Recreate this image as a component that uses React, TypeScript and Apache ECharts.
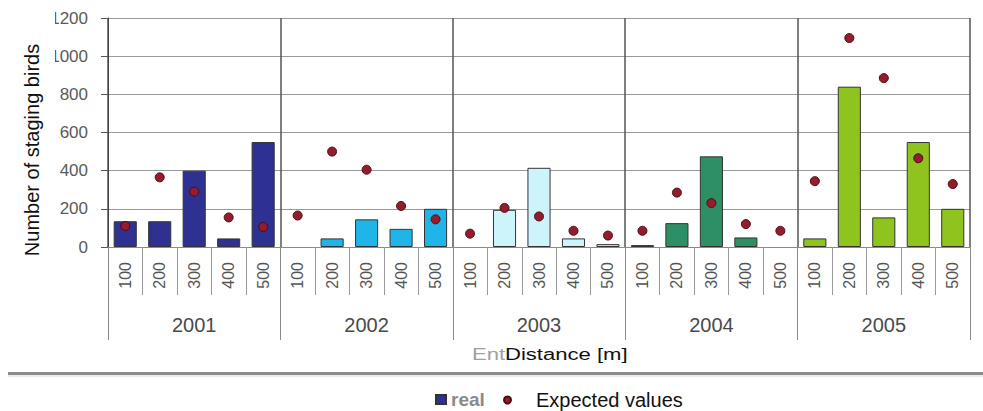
import React, { useEffect, useRef } from "react";
import * as echarts from "echarts";

// ---- data ----
const years = ["2001", "2002", "2003", "2004", "2005"];
const distances = ["100", "200", "300", "400", "500"];

// real counts (bars), 5 distances per year
const real2001 = [135, 135, 400, 45, 550];
const real2002 = [0, 45, 145, 95, 200];
const real2003 = [0, 195, 415, 45, 15];
const real2004 = [10, 125, 475, 50, 0];
const real2005 = [45, 840, 155, 550, 200];

// expected values (dots)
const exp2001 = [110, 365, 290, 155, 105];
const exp2002 = [165, 500, 405, 215, 145];
const exp2003 = [70, 205, 160, 85, 60];
const exp2004 = [85, 285, 230, 120, 85];
const exp2005 = [345, 1095, 885, 465, 330];

const yMin = 0;
const yMax = 1200;
const yStep = 200;

const yearColors = ["#2E3192", "#1FB5E8", "#CDF4FB", "#2E8F65", "#8FC41F"];

export default function App() {
  const ref = useRef<HTMLDivElement>(null);

  useEffect(() => {
    if (!ref.current) return;
    const chart = echarts.init(ref.current, null, { renderer: "svg" });

    const realByYear = [real2001, real2002, real2003, real2004, real2005];
    const expByYear = [exp2001, exp2002, exp2003, exp2004, exp2005];
    const categories = years.flatMap((y) => distances.map((d) => `${y}|${d}`));
    const realData = realByYear.flatMap((arr, yi) =>
      arr.map((v) => ({
        value: v,
        itemStyle: { color: yearColors[yi], borderWidth: v === 0 ? 0 : 1 },
      }))
    );
    const expData = expByYear.flat();

    const font = "Liberation Sans";

    chart.setOption({
      animation: false,
      backgroundColor: "#ffffff",
      textStyle: { fontFamily: font },
      grid: {
        left: 108,
        right: 13,
        top: 18,
        bottom: 164,
        containLabel: false,
        outerBoundsMode: "none",
      },
      xAxis: [
        {
          type: "category",
          data: categories,
          position: "bottom",
          axisLine: { show: true, lineStyle: { color: "#8a8a8a", width: 1 } },
          axisTick: {
            show: true,
            length: 48,
            interval: 0,
            lineStyle: { color: "#9a9a9a" },
          },
          axisLabel: {
            interval: 0,
            rotate: 90,
            margin: 15,
            fontSize: 16,
            fontFamily: font,
            color: "#555555",
            formatter: (v: string) => v.split("|")[1],
          },
          splitLine: { show: false },
        },
        {
          type: "category",
          data: years,
          position: "bottom",
          axisLine: { show: false },
          axisTick: {
            show: true,
            length: 93,
            interval: 0,
            lineStyle: { color: "#8a8a8a" },
          },
          axisLabel: {
            interval: 0,
            margin: 68,
            fontSize: 20,
            fontFamily: font,
            color: "#4a4a4a",
          },
          splitLine: {
            show: true,
            interval: 0,
            lineStyle: { color: "#555555", width: 1.5 },
          },
        },
      ],
      yAxis: {
        type: "value",
        min: yMin,
        max: yMax,
        interval: yStep,
        axisLine: { show: true, lineStyle: { color: "#444444" } },
        axisTick: { show: true, length: 7, lineStyle: { color: "#555555" } },
        axisLabel: {
          margin: 20,
          fontSize: 17,
          fontFamily: font,
          color: "#5a5a5a",
          formatter: (v: number) => String(v),
        },
        splitLine: { show: true, lineStyle: { color: "#9a9a9a" } },
      },
      legend: [
        {
          data: [
            {
              name: "real",
              textStyle: { color: "#8a8a8a", fontWeight: "bold" },
            },
          ],
          left: 435,
          top: 390,
          padding: 0,
          icon: "rect",
          itemWidth: 10,
          itemHeight: 9,
          selectedMode: false,
          textStyle: { fontSize: 19, fontFamily: font },
        },
        {
          data: [{ name: "Expected values" }],
          left: 503,
          top: 390,
          padding: 0,
          icon: "circle",
          itemWidth: 7,
          itemHeight: 7,
          selectedMode: false,
          textStyle: {
            fontSize: 20,
            fontFamily: font,
            color: "#111111",
            padding: [0, 0, 0, 20],
          },
        },
      ],
      series: [
        {
          name: "real",
          type: "bar",
          xAxisIndex: 0,
          yAxisIndex: 0,
          barCategoryGap: "33%",
          itemStyle: {
            color: yearColors[0],
            borderColor: "#333333",
            borderWidth: 1,
          },
          data: realData,
        },
        {
          name: "Expected values",
          type: "scatter",
          xAxisIndex: 0,
          yAxisIndex: 0,
          symbol: "circle",
          symbolSize: 9,
          z: 3,
          itemStyle: {
            color: "#951C2C",
            borderColor: "#4a0c14",
            borderWidth: 1,
            opacity: 1,
          },
          data: expData,
        },
      ],
      graphic: [
        {
          type: "rect",
          z: 100,
          shape: { x: 0, y: 9, width: 55, height: 262 },
          style: { fill: "#ffffff" },
        },
        {
          type: "text",
          z: 101,
          x: 32,
          y: 150,
          rotation: Math.PI / 2,
          style: {
            text: "Number of staging birds",
            fontSize: 20,
            fontFamily: font,
            fill: "#111111",
            align: "center",
            verticalAlign: "middle",
          },
        },
        {
          type: "text",
          z: 101,
          x: 472,
          y: 355,
          scaleX: 1.38,
          style: {
            text: "Ent",
            fontSize: 16,
            fontFamily: font,
            fill: "#a0a0a0",
            verticalAlign: "middle",
          },
        },
        {
          type: "text",
          z: 101,
          x: 505,
          y: 355,
          scaleX: 1.38,
          style: {
            text: "Distance [m]",
            fontSize: 16,
            fontFamily: font,
            fill: "#111111",
            verticalAlign: "middle",
          },
        },
        {
          type: "line",
          z: 100,
          shape: { x1: 8, y1: 373.5, x2: 983, y2: 373.5 },
          style: { stroke: "#8c8c8c", lineWidth: 3 },
        },
        {
          type: "line",
          z: 100,
          shape: { x1: 8, y1: 376, x2: 983, y2: 376 },
          style: { stroke: "#d6d6d6", lineWidth: 1 },
        },
      ],
    });

    return () => chart.dispose();
  }, []);

  return (
    <div
      ref={ref}
      style={{ position: "fixed", left: 0, top: 0, width: 983, height: 411 }}
    />
  );
}
